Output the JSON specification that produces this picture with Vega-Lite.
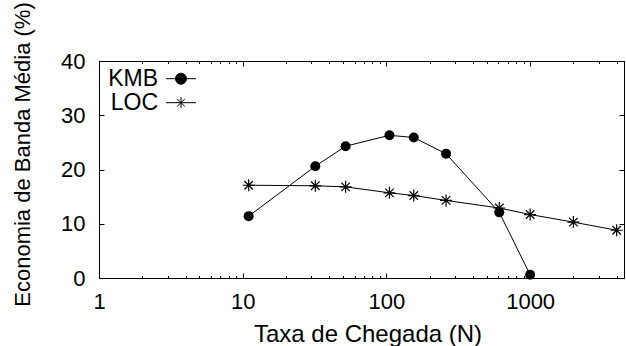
{
  "$schema": "https://vega.github.io/schema/vega-lite/v6.json",
  "width": 525,
  "height": 217,
  "autosize": {"type": "none"},
  "padding": {"left": 99, "top": 61, "right": 2, "bottom": 68},
  "background": "white",
  "config": {
    "view": {"stroke": "black", "strokeWidth": 1},
    "font": "Liberation Sans",
    "axis": {"labelFont": "Liberation Sans", "titleFont": "Liberation Sans", "labelFontSize": 22, "titleFontSize": 24, "labelColor": "black", "titleColor": "black", "titleFontWeight": "normal", "tickColor": "black", "tickWidth": 1, "domain": false, "grid": false, "labelOverlap": false, "labelFlush": false},
    "legend": {"labelFont": "Liberation Sans"}
  },
  "data": {"values": [
    {"series": "KMB", "n": 11, "v": 11.4},
    {"series": "KMB", "n": 32, "v": 20.6},
    {"series": "KMB", "n": 52, "v": 24.3},
    {"series": "KMB", "n": 105, "v": 26.3},
    {"series": "KMB", "n": 155, "v": 25.9},
    {"series": "KMB", "n": 260, "v": 22.9},
    {"series": "KMB", "n": 610, "v": 12.1},
    {"series": "KMB", "n": 1000, "v": 0.6},
    {"series": "LOC", "n": 11, "v": 17.1},
    {"series": "LOC", "n": 32, "v": 17.0},
    {"series": "LOC", "n": 52, "v": 16.8},
    {"series": "LOC", "n": 105, "v": 15.7},
    {"series": "LOC", "n": 155, "v": 15.2},
    {"series": "LOC", "n": 260, "v": 14.3},
    {"series": "LOC", "n": 610, "v": 12.9},
    {"series": "LOC", "n": 1000, "v": 11.7},
    {"series": "LOC", "n": 2000, "v": 10.3},
    {"series": "LOC", "n": 4000, "v": 8.8}
  ]},
  "resolve": {"axis": {"x": "independent", "y": "independent"}},
  "layer": [
    {
      "mark": {"type": "line", "strokeWidth": 1},
      "encoding": {
        "x": {"field": "n", "type": "quantitative",
          "scale": {"type": "log", "domain": [1, 4500], "nice": false},
          "axis": {"orient": "bottom", "values": [1, 10, 100, 1000], "format": "d",
            "offset": -5, "tickSize": 5, "labelPadding": 13,
            "title": "Taxa de Chegada (N)", "titleX": 268.5, "titleAlign": "center", "titleY": 68, "titleBaseline": "alphabetic"}},
        "y": {"field": "v", "type": "quantitative",
          "scale": {"domain": [0, 40], "nice": false, "zero": false},
          "axis": {"orient": "left", "values": [0, 10, 20, 30, 40], "offset": -5, "tickSize": 5, "labelPadding": 14,
            "title": "Economia de Banda Média (%)", "titleFontSize": 22, "titleX": -75, "titleY": 93, "titleAngle": -90, "titleAlign": "center", "titleBaseline": "alphabetic"}},
        "color": {"field": "series", "type": "nominal",
          "scale": {"domain": ["KMB", "LOC"], "range": ["black", "black"]},
          "legend": {
            "title": null, "orient": "none", "legendX": 70.5, "legendY": 6.2,
            "labelFontSize": 23, "labelAlign": "right", "labelBaseline": "middle", "labelOffset": -34.5,
            "symbolSize": 121, "rowPadding": 0, "padding": 0, "labelColor": "black",
            "encode": {
              "labels": {"update": {"dy": {"signal": "datum.value == 'LOC' ? -3 : 0"}}},
              "symbols": {"update": {
              "shape": {"signal": "datum.value == 'KMB' ? 'M-2.73,0L2.73,0M-1,0A1,1 0 1 1 1,0A1,1 0 1 1 -1,0Z' : 'M-2.73,-0.55L2.73,-0.55M0,-1.55L0,0.45M-0.71,-1.26L0.71,0.16M-0.71,0.16L0.71,-1.26'"},
              "fill": {"signal": "datum.value == 'KMB' ? 'black' : 'transparent'"},
              "stroke": {"value": "black"},
              "strokeWidth": {"value": 1},
              "opacity": {"value": 1}
            }}}
          }},
        "detail": {"field": "series"}
      }
    },
    {
      "mark": {"type": "point", "opacity": 0},
      "encoding": {
        "x": {"field": "n", "type": "quantitative",
          "axis": {"orient": "top", "values": [2,3,4,5,6,7,8,9,20,30,40,50,60,70,80,90,200,300,400,500,600,700,800,900,2000,3000,4000],
            "offset": -2.5, "tickSize": 2.5, "labels": false, "title": null}},
        "y": {"field": "v", "type": "quantitative", "axis": null}
      }
    },
    {
      "transform": [{"filter": "datum.series == 'KMB'"}],
      "mark": {"type": "point", "shape": "circle", "filled": true, "size": 100, "color": "black", "opacity": 1},
      "encoding": {
        "x": {"field": "n", "type": "quantitative",
          "axis": {"orient": "top", "values": [1, 10, 100, 1000], "offset": -5, "tickSize": 5, "labels": false, "title": null}},
        "y": {"field": "v", "type": "quantitative",
          "axis": {"orient": "right", "values": [0, 10, 20, 30, 40], "offset": -5, "tickSize": 5, "labels": false, "title": null}}
      }
    },
    {
      "transform": [{"filter": "datum.series == 'LOC'"}],
      "mark": {"type": "point", "shape": "M-1,0L1,0M0,-1L0,1M-0.71,-0.71L0.71,0.71M-0.71,0.71L0.71,-0.71", "filled": false, "size": 144, "color": "black", "strokeWidth": 1.2, "opacity": 1},
      "encoding": {
        "x": {"field": "n", "type": "quantitative",
          "axis": {"orient": "bottom", "values": [2,3,4,5,6,7,8,9,20,30,40,50,60,70,80,90,200,300,400,500,600,700,800,900,2000,3000,4000],
            "offset": -2.5, "tickSize": 2.5, "labels": false, "title": null}},
        "y": {"field": "v", "type": "quantitative", "axis": null}
      }
    }
  ]
}
